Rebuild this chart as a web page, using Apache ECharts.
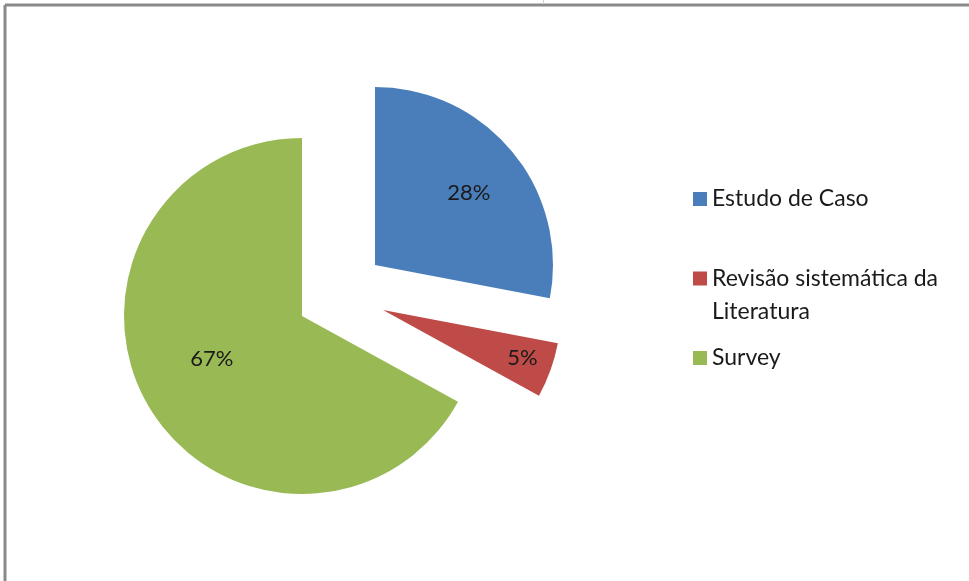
<!DOCTYPE html>
<html>
<head>
	<meta charset="UTF-8">
	<title>Pie</title>
	<script src="https://cdn.jsdelivr.net/npm/echarts@6/dist/echarts.min.js"></script>
	<style>
		html, body { margin: 0; padding: 0; background: #fff; }
		#chart { width: 969px; height: 581px; }
	</style>
</head>
<body>
<div id="chart"></div>
<script type="text/javascript">
	// dados do gráfico
	var names = ['Estudo de Caso', 'Revisão sistemática da Literatura', 'Survey'];
	var values = [28, 5, 67];
	var colors = ['#4a7ebb', '#be4b48', '#98b954'];
	// centro de cada fatia (fatias destacadas)
	var centers = [[375, 265], [383, 310], [302, 316]];
	var labelOffsets = [[23, -13], [53, 17], [-11, -4]];

	var total = values.reduce(function (a, b) { return a + b; }, 0);
	var hidden = { itemStyle: { color: 'transparent' }, label: { show: false }, emphasis: { disabled: true } };

	var series = [];
	var before = 0;
	for (var i = 0; i < values.length; i++) {
		var data = [];
		if (before > 0) data.push(Object.assign({ name: '', value: before }, hidden));
		data.push({
			name: names[i],
			value: values[i],
			itemStyle: { color: colors[i] },
			label: { offset: labelOffsets[i] }
		});
		var after = total - before - values[i];
		if (after > 0) data.push(Object.assign({ name: ' ', value: after }, hidden));
		before += values[i];

		series.push({
			type: 'pie',
			center: centers[i],
			radius: 178,
			startAngle: 90,
			clockwise: true,
			silent: true,
			avoidLabelOverlap: false,
			label: {
				show: true,
				position: 'inside',
				formatter: '{c}%',
				fontFamily: 'Lato',
				fontSize: 22,
				color: '#1a1a1a'
			},
			labelLine: { show: false },
			data: data
		});
	}

	// legenda: uma por item, a segunda quebra em duas linhas
	var legendTops = [181, 224, 340];
	var legends = names.map(function (n, i) {
		return {
			data: [n],
			left: 688,
			top: legendTops[i],
			itemWidth: 14,
			itemHeight: 14,
			itemGap: 5,
			icon: 'rect',
			selectedMode: false,
			formatter: function (name) {
				if (name === names[1]) return '{a| }\n{a|Revisão sistemática da}\n{a|Literatura}';
				return name;
			},
			textStyle: {
				fontFamily: 'Lato', fontSize: 23, color: '#1a1a1a', lineHeight: 26,
				rich: { a: { fontFamily: 'Lato', fontSize: 23, color: '#1a1a1a', lineHeight: 33 } }
			}
		};
	});

	var myChart = echarts.init(document.getElementById('chart'));
	var option = {
		animation: false,
		backgroundColor: '#fff',
		legend: legends,
		series: series,
		graphic: [
			{ type: 'line', shape: { x1: 5, y1: 5, x2: 969, y2: 5 }, style: { stroke: '#8a8a8a', lineWidth: 3 } },
			{ type: 'line', shape: { x1: 5, y1: 5, x2: 5, y2: 581 }, style: { stroke: '#8a8a8a', lineWidth: 3 } },
			{ type: 'line', shape: { x1: 543.5, y1: 0, x2: 543.5, y2: 4 }, style: { stroke: '#d0d0d0', lineWidth: 1 } }
		]
	};
	myChart.setOption(option);
</script>
</body>
</html>
